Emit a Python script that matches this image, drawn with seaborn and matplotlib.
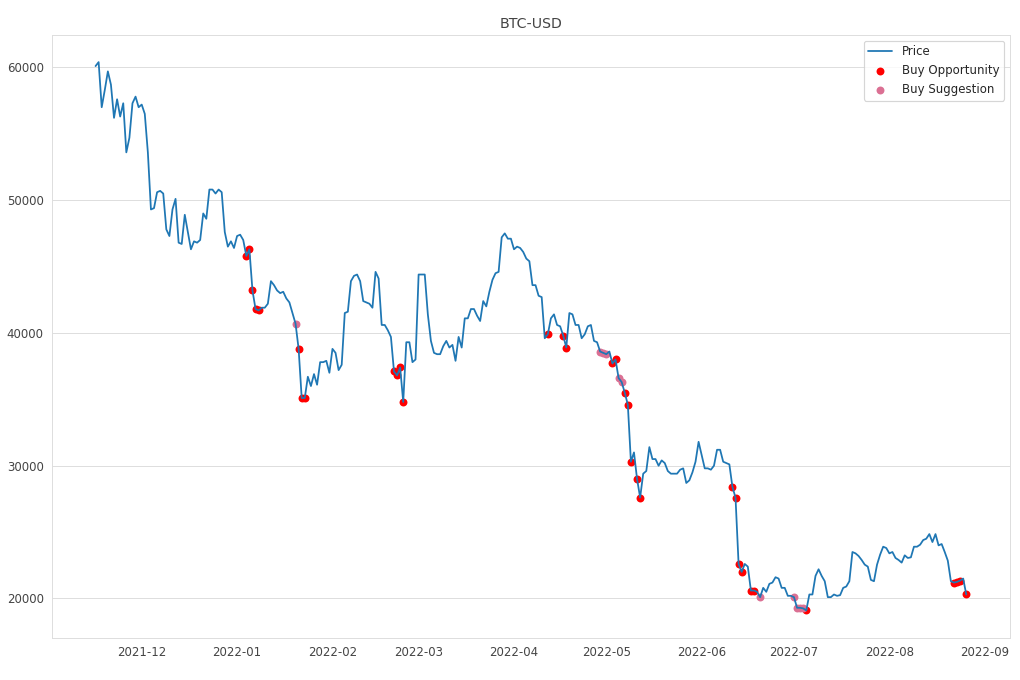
import pandas as pd
import seaborn as sns
import matplotlib.pyplot as plt

# daily closing price (thousands of USD), starting 2021-11-16
start_date = '2021-11-16'
price_k = [
    60.1, 60.4, 57.0, 58.3, 59.7, 58.7, 56.2, 57.6, 56.3, 57.3,
    53.6, 54.7, 57.3, 57.8, 57.0, 57.2, 56.5, 53.6, 49.3, 49.4,
    50.6, 50.7, 50.5, 47.8, 47.3, 49.3, 50.1, 46.8, 46.7, 48.9,
    47.6, 46.3, 46.9, 46.8, 47.0, 49.0, 48.6, 50.8, 50.8, 50.5,
    50.8, 50.6, 47.6, 46.5, 46.9, 46.4, 47.3, 47.4, 47.0,
    45.8, 46.3, 43.2, 41.8, 41.7, 41.9, 41.9, 42.2, 43.9, 43.6,
    43.2, 43.0, 43.1, 42.6, 42.3, 41.5, 40.7, 38.8, 35.1, 35.1,
    36.7, 36.0, 36.9, 36.1, 37.8, 37.8, 37.9, 37.0, 38.8, 38.5,
    37.2, 37.6, 41.5, 41.6, 43.9, 44.3, 44.4, 43.9, 42.4, 42.3,
    42.2, 41.9, 44.6, 44.1, 40.6, 40.6, 40.2, 39.7, 37.1, 36.8,
    37.4, 34.8, 39.3, 39.3, 37.8, 38.0, 44.4, 44.4, 44.4, 41.4,
    39.4, 38.5, 38.4, 38.4, 39.0, 39.4, 38.9, 39.1, 37.9, 39.7,
    38.9, 41.1, 41.1, 41.8, 41.8, 41.3, 40.9, 42.4, 42.0, 43.1,
    44.0, 44.5, 44.6, 47.2, 47.5, 47.1, 47.1, 46.3, 46.5, 46.4,
    46.1, 45.6, 45.4, 43.6, 43.6, 42.8, 42.7, 39.6, 39.9, 41.1,
    41.4, 40.6, 40.5, 39.8, 38.9, 41.5, 41.4, 40.6, 40.6, 39.6,
    39.9, 40.5, 40.6, 39.4, 39.3, 38.6, 38.5, 38.4, 38.6, 37.7,
    38.0, 36.6, 36.3, 35.5, 34.6, 30.3, 31.0, 29.0, 27.6, 29.4,
    29.6, 31.4, 30.5, 30.5, 30.0, 30.4, 30.2, 29.6, 29.4, 29.4,
    29.4, 29.7, 29.8, 28.7, 28.9, 29.5, 30.3, 31.8, 30.8, 29.8,
    29.8, 29.7, 30.0, 31.2, 31.2, 30.3, 30.2, 30.1, 28.4, 27.6,
    22.6, 22.0, 22.6, 22.4, 20.6, 20.6, 20.5, 20.1, 20.8, 20.5,
    21.1, 21.2, 21.6, 21.5, 20.8, 20.8, 20.2, 20.2, 20.1, 19.3,
    19.3, 19.25, 19.1, 20.3, 20.3, 21.7, 22.2, 21.7, 21.3, 20.1,
    20.1, 20.3, 20.2, 20.25, 20.8, 20.9, 21.3, 23.5, 23.4, 23.2,
    22.9, 22.55, 22.4, 21.4, 21.3, 22.55, 23.3, 23.9, 23.8, 23.4,
    23.5, 23.05, 22.9, 22.7, 23.25, 23.05, 23.1, 23.9, 23.9, 24.05,
    24.4, 24.5, 24.85, 24.25, 24.85, 24.0, 24.1, 23.5, 22.85, 21.3,
    21.2, 21.25, 21.35, 21.5, 20.3,
]

buy_opportunity = [
    '2022-01-04', '2022-01-05', '2022-01-06', '2022-01-07', '2022-01-08',
    '2022-01-21', '2022-01-22', '2022-01-23',
    '2022-02-21', '2022-02-22', '2022-02-23', '2022-02-24',
    '2022-04-12', '2022-04-17', '2022-04-18',
    '2022-05-03', '2022-05-04', '2022-05-07', '2022-05-08', '2022-05-09',
    '2022-05-11', '2022-05-12',
    '2022-06-11', '2022-06-12', '2022-06-13', '2022-06-14', '2022-06-17', '2022-06-18',
    '2022-07-05',
    '2022-08-22', '2022-08-23', '2022-08-24', '2022-08-26',
]
buy_suggestion = [
    '2022-01-20', '2022-04-29', '2022-04-30', '2022-05-01', '2022-05-05', '2022-05-06',
    '2022-06-20', '2022-07-01', '2022-07-02', '2022-07-03', '2022-07-04',
]

dates = pd.date_range(start_date, periods=len(price_k), freq='D')
df = pd.DataFrame({'date': dates, 'price': [p * 1000 for p in price_k]})
prices = df.set_index('date')['price']

opp = pd.DataFrame({'date': pd.to_datetime(buy_opportunity)})
opp['price'] = prices.loc[opp['date']].values
sug = pd.DataFrame({'date': pd.to_datetime(buy_suggestion)})
sug['price'] = prices.loc[sug['date']].values

sns.set_style('whitegrid', {'grid.color': '#dddddd', 'axes.edgecolor': '#dddddd'})
fig, ax = plt.subplots(figsize=(12, 8), dpi=85)

sns.lineplot(data=df, x='date', y='price', ax=ax, label='Price', color='#1f77b4', linewidth=1.5)
sns.scatterplot(data=opp, x='date', y='price', ax=ax, label='Buy Opportunity', color='red', s=45, linewidth=0)
sns.scatterplot(data=sug, x='date', y='price', ax=ax, label='Buy Suggestion', color='palevioletred', s=45,
                linewidth=0)

ax.grid(axis='x', visible=False)
ax.set(xlabel='', ylabel='')
ax.set_title('BTC-USD', color='#444444')
ax.tick_params(colors='#444444')
ax.legend(loc='upper right')

fig.subplots_adjust(left=0.051, right=0.99, top=0.949, bottom=0.062)
plt.savefig('out.png')
